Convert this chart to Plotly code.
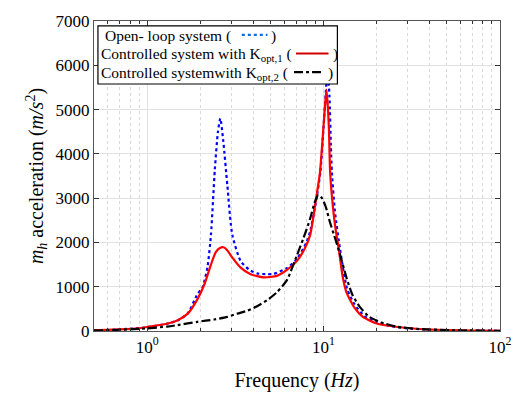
import plotly.graph_objects as go

# ---------------- data ----------------
f_open = [0.5, 0.7, 1.0, 1.3, 1.5, 1.7, 1.93, 2.06, 2.2, 2.3, 2.42, 2.52, 2.6, 2.7, 2.85,
          3.04, 3.39, 3.8, 4.2, 4.8, 5.2, 6.2, 7.05, 8.0, 8.4, 9.13, 9.6, 10.0, 10.3, 10.55,
          10.8, 11.0, 11.15, 11.6, 12.4, 13.6, 15.0, 17.0, 20.0, 25.0, 32.0, 45.0, 65.0, 100.0]
v_open = [12, 35, 85, 165, 245, 400, 837, 985, 1450, 2170, 3650, 4500, 4800, 4300, 3282,
          2170, 1578, 1380, 1300, 1282, 1290, 1420, 1620, 2000, 2250, 3000, 3600, 4600, 5400, 5900,
          5300, 4200, 3578, 2700, 1850, 950, 600, 340, 190, 95, 50, 22, 10, 5]

f_ctrl1 = [0.5, 0.7, 0.89, 1.0, 1.31, 1.49, 1.7, 1.93, 2.11, 2.3, 2.45, 2.6, 2.71, 2.85,
           3.05, 3.39, 3.86, 4.58, 5.44, 6.2, 7.05, 7.8, 8.4, 9.13, 9.54, 9.96, 10.2, 10.39,
           10.6, 10.73, 10.9, 11.3, 11.7, 12.25, 12.8, 13.47, 15.0, 16.7, 20.0, 25.7, 35.0,
           50.0, 70.0, 100.0]
v_ctrl1 = [12, 35, 59, 90, 170, 244, 393, 720, 1050, 1500, 1780, 1880, 1890, 1820,
           1650, 1430, 1282, 1210, 1244, 1380, 1578, 1850, 2170, 3060, 3578, 4540, 5100, 5450,
           5000, 4540, 3578, 2800, 2300, 1800, 1250, 880, 520, 318, 170, 96, 45,
           20, 9, 4]

f_ctrl2 = [0.5, 0.7, 1.0, 1.3, 1.49, 1.93, 2.4, 2.85, 3.25, 3.7, 4.2, 4.8, 5.44, 6.2, 7.05,
           7.7, 8.4, 8.9, 9.34, 9.8, 10.3, 10.85, 11.5, 12.25, 13.5, 14.5, 16.0, 18.2, 21.0,
           25.7, 35.0, 50.0, 70.0, 100.0]
v_ctrl2 = [10, 28, 60, 100, 133, 207, 260, 318, 393, 460, 560, 700, 874, 1150, 1700,
           2100, 2540, 2900, 3074, 3000, 2800, 2467, 2150, 1800, 1200, 837, 550, 318, 200,
           100, 45, 20, 9, 4]

x_tickvals = [1, 10, 100]
x_ticktext = ["10<sup>0</sup>", "10<sup>1</sup>", "10<sup>2</sup>"]
x_minor = [0.5, 0.6, 0.7, 0.8, 0.9, 2, 3, 4, 5, 6, 7, 8, 9,
           20, 30, 40, 50, 60, 70, 80, 90]

legend_rows = ["Open- loop system (",
               "Controlled system with K<sub>opt,1</sub> (",
               "Controlled systemwith K<sub>opt,2</sub> ("]

# ---------------- figure ----------------
FONT = "Liberation Serif, Times New Roman, serif"
fig = go.Figure()
fig.add_trace(go.Scatter(x=f_open, y=v_open, mode="lines",
                         line=dict(color="#0000ff", width=2.2, dash="dot", shape="spline", smoothing=0.6)))
fig.add_trace(go.Scatter(x=f_ctrl1, y=v_ctrl1, mode="lines",
                         line=dict(color="#ff0000", width=2.2, shape="spline", smoothing=0.6)))
fig.add_trace(go.Scatter(x=f_ctrl2, y=v_ctrl2, mode="lines",
                         line=dict(color="#000000", width=2.2, dash="dashdot", shape="spline", smoothing=0.6)))

L, R, T, B = 94, 18, 16, 72
W, H = 524, 403
PW, PH = W - L - R, H - T - B


def px2x(px):
    return (px - L) / PW


def py2y(py):
    return (H - B - py) / PH


fig.update_layout(
    width=W, height=H, margin=dict(l=L, r=R, t=T, b=B),
    paper_bgcolor="white", plot_bgcolor="white", showlegend=False,
    font=dict(family=FONT, size=16, color="black"),
    xaxis=dict(type="log", range=[-0.30103, 2], tickmode="array",
               tickvals=x_tickvals, ticktext=x_ticktext, tickfont=dict(size=17),
               ticks="inside", ticklen=5, tickcolor="#333", mirror="allticks",
               showline=True, linecolor="#555", linewidth=1.2,
               showgrid=True, gridcolor="#e2e2e2", gridwidth=1, zeroline=False,
               minor=dict(tickmode="array", tickvals=x_minor, ticks="inside", ticklen=3,
                          tickcolor="#333", showgrid=True, gridcolor="#d8d8d8",
                          griddash="dot", gridwidth=1),
               title=dict(text="Frequency (<i>Hz</i>)", font=dict(size=20, family=FONT), standoff=17)),
    yaxis=dict(range=[0, 7000], dtick=1000, tick0=0, tickfont=dict(size=17),
               ticks="inside", ticklen=5, tickcolor="#333", mirror="allticks",
               showline=True, linecolor="#555", linewidth=1.2,
               showgrid=True, gridcolor="#e2e2e2", gridwidth=1, zeroline=False,
               title=dict(text="<i>m<sub>h</sub></i> acceleration (<i>m/s</i><sup>2</sup>)",
                          font=dict(size=20, family=FONT), standoff=6)),
)

# ---------------- custom legend (text with the swatch inside parentheses) ----------------
shapes = [dict(type="rect", xref="paper", yref="paper", layer="above",
               x0=px2x(98), x1=px2x(341), y0=py2y(80), y1=py2y(21),
               fillcolor="white", line=dict(color="black", width=1.2))]
row_y = [31, 50, 69]
text_x = [103, 99, 99]
close_x = [272, 334, 329]
sw = [(244, 270, "#0070e0", "dot"), (299, 332, "#d00000", "solid"), (297, 327, "#000000", "dashdot")]
annotations = []
for i in range(3):
    annotations.append(dict(xref="paper", yref="paper", x=px2x(text_x[i]), y=py2y(row_y[i]),
                            xanchor="left", yanchor="middle", showarrow=False,
                            text=legend_rows[i], font=dict(size=15.5, family=FONT)))
    annotations.append(dict(xref="paper", yref="paper", x=px2x(close_x[i]), y=py2y(row_y[i]),
                            xanchor="left", yanchor="middle", showarrow=False,
                            text=")", font=dict(size=15.5, family=FONT)))
    x0, x1, c, d = sw[i]
    shapes.append(dict(type="line", xref="paper", yref="paper", layer="above",
                       x0=px2x(x0), x1=px2x(x1), y0=py2y(row_y[i] - 1), y1=py2y(row_y[i] - 1),
                       line=dict(color=c, width=2.2, dash=d)))
fig.update_layout(shapes=shapes, annotations=annotations)

fig.write_html("out.html")
